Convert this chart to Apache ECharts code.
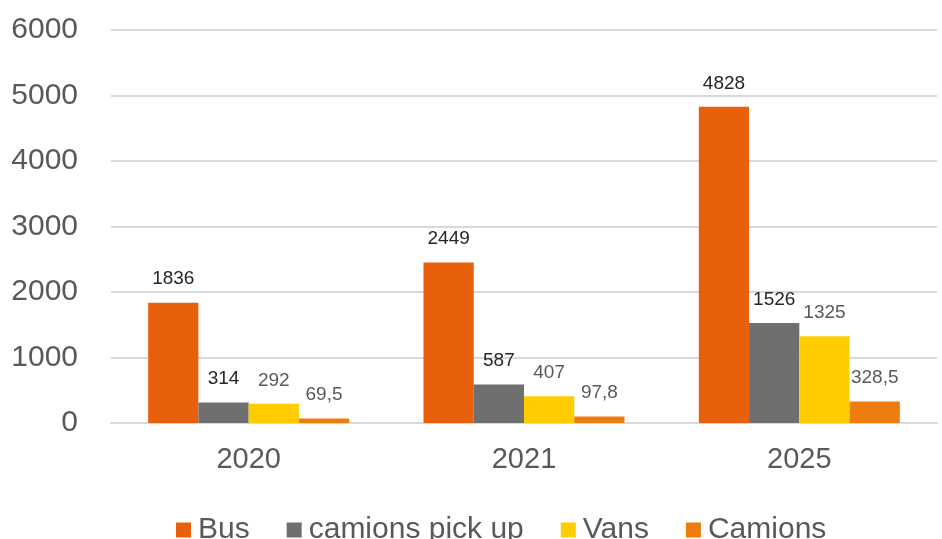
<!DOCTYPE html>
<html><head><meta charset="utf-8">
<script src="https://cdn.jsdelivr.net/npm/echarts@6/dist/echarts.min.js"></script>
<style>html,body{margin:0;padding:0;background:#fff}#c{width:942px;height:539px}</style>
</head><body><div id="c"></div>
<script>
const categories = ['2020', '2021', '2025'];
const seriesNames = ['Bus', 'camions pick up', 'Vans', 'Camions'];
const bus = [1836, 2449, 4828];
const pickup = [314, 587, 1526];
const vans = [292, 407, 1325];
const camions = [69.5, 97.8, 328.5];
const yTicks = [0, 1000, 2000, 3000, 4000, 5000, 6000];

const colors = ['#E85F0C', '#6F6F6F', '#FFCC00', '#EE7D0F'];
const labelColors = ['#262626', '#262626', '#595959', '#595959'];
const fmt = v => String(v).replace('.', ',');
const data = [bus, pickup, vans, camions];

const chart = echarts.init(document.getElementById('c'));
chart.setOption({
  animation: false,
  textStyle: { fontFamily: 'Liberation Sans, Arial, sans-serif' },
  color: colors,
  grid: { left: 111, right: 5, top: 30, bottom: 116 },
  legend: {
    top: 510, left: 171,
    itemWidth: 15, itemHeight: 15, itemGap: 37,
    icon: 'rect',
    textStyle: { fontSize: 30, color: '#595959', padding: [0, 0, 0, 2] },
    data: seriesNames
  },
  xAxis: {
    type: 'category', data: categories,
    axisLine: { lineStyle: { color: '#d9d9d9', width: 2 } },
    axisTick: { show: false },
    axisLabel: { fontSize: 29, color: '#595959', margin: 22 }
  },
  yAxis: {
    type: 'value', min: yTicks[0], max: yTicks[yTicks.length - 1], interval: 1000,
    axisLine: { show: false }, axisTick: { show: false },
    splitLine: { lineStyle: { color: '#d9d9d9', width: 2 } },
    axisLabel: { fontSize: 30, color: '#595959', margin: 33, formatter: v => String(v) }
  },
  series: seriesNames.map((n, i) => ({
    name: n, type: 'bar', data: data[i],
    barGap: '0%', barCategoryGap: '27%',
    itemStyle: { color: colors[i] },
    label: {
      show: true, position: 'top', distance: 14,
      fontSize: 19, color: labelColors[i],
      formatter: p => fmt(p.value)
    }
  }))
});
</script></body></html>
